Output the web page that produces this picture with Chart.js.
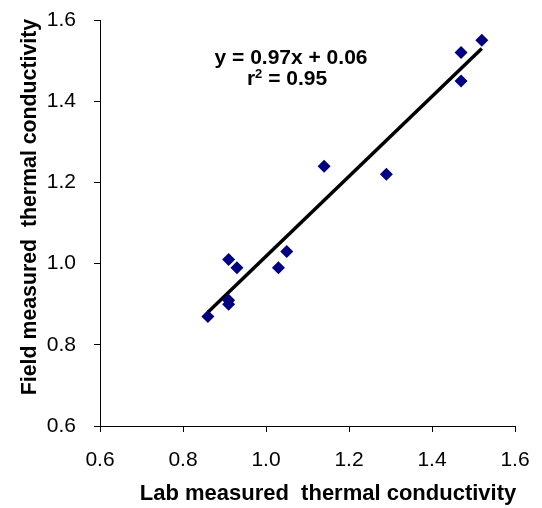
<!DOCTYPE html>
<html>
<head>
<meta charset="utf-8">
<script src="https://cdn.jsdelivr.net/npm/chart.js@4"></script>
<style>
  html, body { margin: 0; padding: 0; background: #fff; }
  #wrap { width: 542px; height: 508px; }
</style>
</head>
<body>
<div id="wrap"><canvas id="myChart" width="542" height="508"></canvas></div>
<script>
  const labValues = [0.86, 0.91, 0.91, 0.91, 0.93, 1.03, 1.05, 1.14, 1.29, 1.47, 1.47, 1.52];
  const fieldValues = [0.87, 0.90, 0.91, 1.01, 0.99, 0.99, 1.03, 1.24, 1.22, 1.45, 1.52, 1.55];
  // trend line end points
  const trendX = [0.86, 1.52];
  const trendY = [0.88, 1.53];
  const tickValues = [0.6, 0.8, 1.0, 1.2, 1.4, 1.6];
  const xTitle = 'Lab measured  thermal conductivity';
  const yTitle = 'Field measured  thermal conductivity';
  const eqLine = 'y = 0.97x + 0.06';
  const r2Value = '0.95';

  const font = "'Liberation Sans', Arial, sans-serif";

  const textPlugin = {
    id: 'texts',
    afterDraw(chart) {
      const c = chart.ctx;
      c.save();
      c.fillStyle = '#000';
      c.textBaseline = 'middle';
      c.textAlign = 'center';
      // axis titles
      c.font = 'bold 22px ' + font;
      c.fillText(xTitle, 328, 494);
      c.save();
      c.translate(30, 207);
      c.rotate(-Math.PI / 2);
      c.font = 'bold 21.3px ' + font;
      c.fillText(yTitle, 0, 0);
      c.restore();
      // regression text
      c.font = 'bold 21px ' + font;
      c.fillText(eqLine, 291, 58);
      const a = 'r', b = ' = ' + r2Value;
      const wa = c.measureText(a).width, wb = c.measureText(b).width;
      c.font = 'bold 13px ' + font;
      const ws = c.measureText('2').width;
      const total = wa + ws + wb;
      let x0 = 287 - total / 2;
      c.textAlign = 'left';
      c.font = 'bold 21px ' + font;
      c.fillText(a, x0, 79);
      c.font = 'bold 13px ' + font;
      c.fillText('2', x0 + wa, 74);
      c.font = 'bold 21px ' + font;
      c.fillText(b, x0 + wa + ws, 79);
      c.restore();
    }
  };

  const axisCommon = {
    type: 'linear',
    min: 0.6,
    max: 1.6,
    afterBuildTicks: (scale) => { scale.ticks = tickValues.map(v => ({ value: v })); },
    grid: { drawOnChartArea: false, drawTicks: true, tickLength: 6, color: '#000', lineWidth: 1 },
    border: { display: true, color: '#000', width: 1 },
    ticks: {
      color: '#000',
      font: { family: font, size: 21 },
      callback: (v) => Number(v).toFixed(1)
    }
  };

  const ctx = document.getElementById('myChart');

  new Chart(ctx, {
    type: 'scatter',
    data: {
      datasets: [{
        label: 'data',
        data: labValues.map((x, i) => ({ x: x, y: fieldValues[i] })),
        pointStyle: 'rectRot',
        pointRadius: 6.5,
        backgroundColor: '#000080',
        borderColor: '#000080',
        borderWidth: 0,
        order: 1
      }, {
        label: 'trend',
        type: 'line',
        data: trendX.map((x, i) => ({ x: x, y: trendY[i] })),
        borderColor: '#000',
        borderWidth: 3.5,
        pointRadius: 0,
        fill: false,
        order: 2
      }]
    },
    options: {
      responsive: false,
      animation: false,
      layout: { padding: { top: 20, right: 27, left: 0, bottom: 0 } },
      plugins: { legend: { display: false }, tooltip: { enabled: false } },
      scales: {
        x: Object.assign({}, axisCommon, {
          position: 'bottom',
          ticks: Object.assign({}, axisCommon.ticks, { padding: 16, maxRotation: 0 }),
          afterFit: (s) => { s.height = 82; s.paddingLeft = 0; s.paddingRight = 0; }
        }),
        y: Object.assign({}, axisCommon, {
          position: 'left',
          ticks: Object.assign({}, axisCommon.ticks, { padding: 18 }),
          afterFit: (s) => { s.width = 100; s.paddingTop = 0; s.paddingBottom = 0; }
        })
      }
    },
    plugins: [textPlugin]
  });
</script>
</body>
</html>
